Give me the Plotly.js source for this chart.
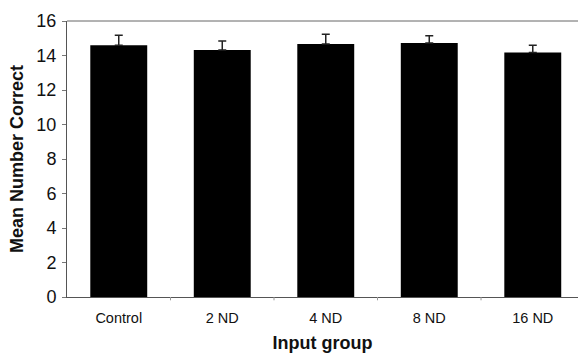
<!DOCTYPE html>
<html>
<head>
<meta charset="utf-8">
<script src="https://cdn.plot.ly/plotly-3.0.1.min.js"></script>
<style>html,body{margin:0;padding:0;background:#fff}#chart{width:578px;height:353px}</style>
</head>
<body>
<div id="chart"></div>
<script>
const categories = ["Control", "2 ND", "4 ND", "8 ND", "16 ND"];
const meanCorrect = [14.59, 14.32, 14.67, 14.72, 14.18];
const errorUp = [0.58, 0.52, 0.56, 0.43, 0.41];
const yTicks = [0, 2, 4, 6, 8, 10, 12, 14, 16];

const trace = {
  type: "bar",
  x: categories.map((c, i) => i),
  y: meanCorrect,
  marker: {color: "#000000", line: {color: "#000000", width: 0}},
  width: 0.55,
  error_y: {
    type: "data",
    symmetric: false,
    array: errorUp,
    arrayminus: errorUp.map(() => 0),
    color: "#222222",
    thickness: 1.5,
    width: 4
  },
  hoverinfo: "skip"
};

const layout = {
  width: 578, height: 353,
  margin: {l: 67, r: 0, t: 21, b: 56},
  paper_bgcolor: "#ffffff", plot_bgcolor: "#ffffff",
  showlegend: false,
  font: {family: "Liberation Sans, Arial, sans-serif", color: "#111111"},
  xaxis: {
    tickmode: "array",
    tickvals: categories.map((c, i) => i),
    ticktext: categories,
    range: [-0.5, 4.437],
    showgrid: false, zeroline: false,
    showline: true, linecolor: "#555555", linewidth: 1,
    ticks: "",
    ticklabelstandoff: 8,
    tickfont: {size: 14.5, color: "#111111"},
    title: {text: "<b>Input group</b>", font: {size: 18, color: "#111111"}, standoff: 10}
  },
  yaxis: {
    range: [0, 16],
    tickmode: "array",
    tickvals: yTicks,
    ticktext: yTicks.map(String),
    showgrid: false, zeroline: false,
    showline: true, linecolor: "#555555", linewidth: 1,
    ticks: "outside", ticklen: 4, tickcolor: "#777777",
    ticklabelstandoff: 2,
    tickfont: {size: 18, color: "#111111"},
    title: {text: "<b>Mean Number Correct</b>", font: {size: 18, color: "#111111"}, standoff: 8}
  },
  shapes: [{
    type: "line", xref: "paper", yref: "paper",
    x0: 0, x1: 1, y0: 1, y1: 1,
    line: {color: "#666666", width: 1}
  }].concat(categories.slice(1).map((c, i) => ({
    type: "line", xref: "x", yref: "paper",
    x0: i + 0.5, x1: i + 0.5, y0: 0, y1: -0.012,
    line: {color: "#999999", width: 1}
  })))
};

Plotly.newPlot("chart", [trace], layout, {staticPlot: true, displayModeBar: false});
</script>
</body>
</html>
